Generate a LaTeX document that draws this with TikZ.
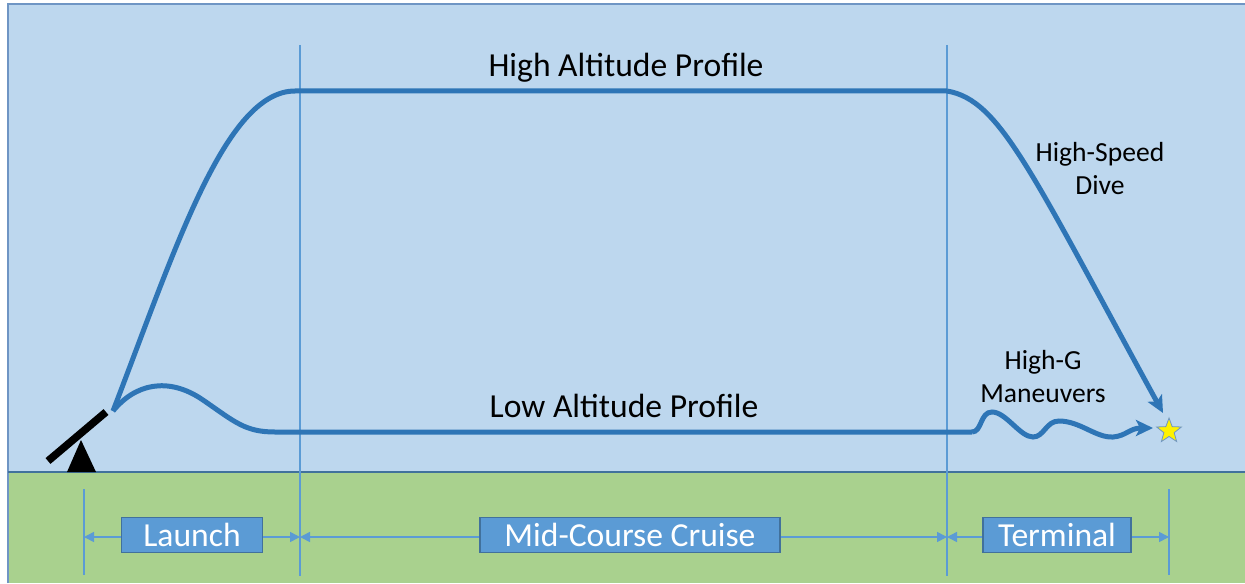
\documentclass[tikz,border=0pt]{standalone}
\usepackage{fontspec}
\setmainfont{Carlito}
\usepackage{xcolor}
\usepackage{tikz}
\usetikzlibrary{shapes,arrows,positioning,calc,arrows.meta}

\definecolor{skyfill}{HTML}{BDD7EE}
\definecolor{grassfill}{HTML}{A9D18E}
\definecolor{trackblue}{HTML}{2E75B6}
\definecolor{lineblue}{HTML}{5B9BD5}
\definecolor{boxedge}{HTML}{41719C}
\definecolor{frameblue}{HTML}{6F95C4}

\tikzset{
  profile/.style={draw=trackblue,line width=2.5pt},
  marker/.style={draw=lineblue,line width=0.8pt},
  span/.style={marker,{Triangle[length=5pt,width=5pt]}-{Triangle[length=5pt,width=5pt]}},
  phase/.style={fill=lineblue,draw=boxedge,line width=0.6pt,text=white,
    minimum height=17.5pt,inner sep=0pt,font=\fontsize{16.8}{19}\selectfont},
  bigtext/.style={font=\fontsize{16.8}{19}\selectfont},
  smalltext/.style={font=\fontsize{13.8}{16.5}\selectfont,align=center},
}

\begin{document}
\begin{tikzpicture}[x=0.5pt,y=-0.5pt]
    \useasboundingbox (0,0) rectangle (1245,583);
    % Sky and ground
    \fill[skyfill] (8,4) rectangle (1245,472);
    \fill[grassfill] (8,472) rectangle (1245,583);
    \draw[frameblue,line width=0.6pt] (8,583) -- (8,4) -- (1245,4);
    \draw[boxedge,line width=0.6pt] (8,472) -- (1245,472);

    % Phase boundaries
    \draw[marker] (300,45) -- (300,576);
    \draw[marker] (947,45) -- (947,576);
    \draw[marker] (84,489) -- (84,575);
    \draw[marker] (1169,489) -- (1169,575);

    % Launcher
    \fill[black] (67,472) -- (81,440) -- (96,472) -- cycle;
    \draw[black,line width=3.8pt] (48,461) -- (106,412);
    \coordinate (rail) at (113,411);

    % Target
    \node[star,star points=5,star point ratio=2.4,fill=yellow,draw=frameblue,
          line width=0.4pt,minimum size=13pt,inner sep=0pt] (tgt) at (1169,431) {};

    % High altitude profile
    \coordinate (hiA) at (295,91);
    \coordinate (hiB) at (947,91);
    \coordinate (dive) at (1163,413);
    \draw[profile] (rail) .. controls (175,250) and (225,91) .. (hiA) -- (hiB);
    \draw[profile,-{Stealth[length=8.5pt,width=8pt,inset=2pt]}]
        (hiB) .. controls (1000,100) and (1030,170) .. (dive);

    % Low altitude profile
    \coordinate (loA) at (275,432);
    \coordinate (loB) at (972,432);
    \coordinate (jink) at (1153,428);
    \draw[profile] (rail) .. controls (135,384) and (168,376) .. (203,400)
        .. controls (235,422) and (245,432) .. (loA) -- (loB);
    \draw[profile,-{Stealth[length=8.5pt,width=8pt,inset=2pt]}]
        (loB) .. controls (982,432) and (980,412) .. (992,412)
        .. controls (1006,412) and (1020,437) .. (1033,437)
        .. controls (1044,437) and (1046,421) .. (1059,421)
        .. controls (1080,421) and (1096,438) .. (1113,437)
        .. controls (1126,436) and (1130,428) .. (jink);

    % Profile labels
    \node[bigtext] (hiLbl) at (626,68) {High Altitude Profile};
    \node[bigtext] (loLbl) at (624,406) {Low Altitude Profile};
    \node[smalltext] (diveLbl) at (1100,169) {High-Speed\\Dive};
    \node[smalltext] (jinkLbl) at (1043,377) {High-G\\Maneuvers};

    % Phase spans
    \coordinate (t0) at (84,537);
    \coordinate (t1) at (300,537);
    \coordinate (t2) at (947,537);
    \coordinate (t3) at (1169,537);
    \draw[span] (t0) -- (t1);
    \draw[span] (t1) -- (t2);
    \draw[span] (t2) -- (t3);
    \node[phase,minimum width=70.5pt] (launch) at (192,535) {Launch};
    \node[phase,minimum width=150pt] (cruise) at (630,535) {Mid-Course Cruise};
    \node[phase,minimum width=74pt] (term) at (1057,535) {Terminal};
\end{tikzpicture}
\end{document}
